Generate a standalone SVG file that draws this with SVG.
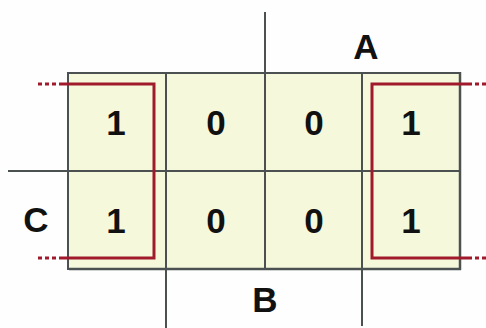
<svg xmlns="http://www.w3.org/2000/svg" width="486" height="328" viewBox="0 0 486 328">
<style>
.grid{stroke:#4b5050;stroke-width:2;fill:none}
.cell{fill:#f6f8dc}
.v{font-family:"Liberation Sans",Arial,sans-serif;font-weight:bold;font-size:35px;fill:#111;text-anchor:middle}
.grp{stroke:#a01a2c;stroke-width:3;fill:none}
.dot{stroke:#a01a2c;stroke-width:3;fill:none;stroke-dasharray:4 3}
</style>
<rect width="486" height="328" fill="#fefefe"/>
<g id="map">
<rect class="cell" x="68" y="73" width="392" height="196"/>
<line class="grid" x1="68" y1="73" x2="460" y2="73"/>
<line class="grid" x1="68" y1="171" x2="460" y2="171"/>
<line class="grid" x1="69" y1="269" x2="461" y2="269" style="stroke-width:2.5"/>
<line class="grid" x1="68" y1="72" x2="68" y2="270"/>
<line class="grid" x1="166" y1="73" x2="166" y2="269"/>
<line class="grid" x1="265" y1="73" x2="265" y2="269"/>
<line class="grid" x1="362" y1="73" x2="362" y2="269"/>
<line class="grid" x1="460" y1="72" x2="460" y2="270" style="stroke-width:2.5"/>
</g>
<g id="axes">
<line class="grid" x1="265" y1="12" x2="265" y2="73"/>
<line class="grid" x1="8" y1="171" x2="68" y2="171"/>
<line class="grid" x1="166" y1="269" x2="166" y2="328"/>
<line class="grid" x1="362" y1="269" x2="362" y2="326"/>
</g>
<g id="labels">
<text class="v" x="366" y="59">A</text>
<text class="v" x="36" y="232">C</text>
<text class="v" x="265" y="312">B</text>
</g>
<g id="cells">
<text class="v" x="116" y="135">1</text>
<text class="v" x="216" y="135">0</text>
<text class="v" x="314" y="135">0</text>
<text class="v" x="411" y="135">1</text>
<text class="v" x="116" y="233">1</text>
<text class="v" x="216" y="233">0</text>
<text class="v" x="314" y="233">0</text>
<text class="v" x="411" y="233">1</text>
</g>
<g id="connectors">
<path class="grp" d="M60 84 H154 V258 H60"/>
<line class="dot" x1="38" y1="84" x2="60" y2="84"/>
<line class="dot" x1="38" y1="258" x2="60" y2="258"/>
<path class="grp" d="M468 84 H372 V258 H468"/>
<line class="dot" x1="468" y1="84" x2="490" y2="84"/>
<line class="dot" x1="468" y1="258" x2="490" y2="258"/>
</g>
</svg>
